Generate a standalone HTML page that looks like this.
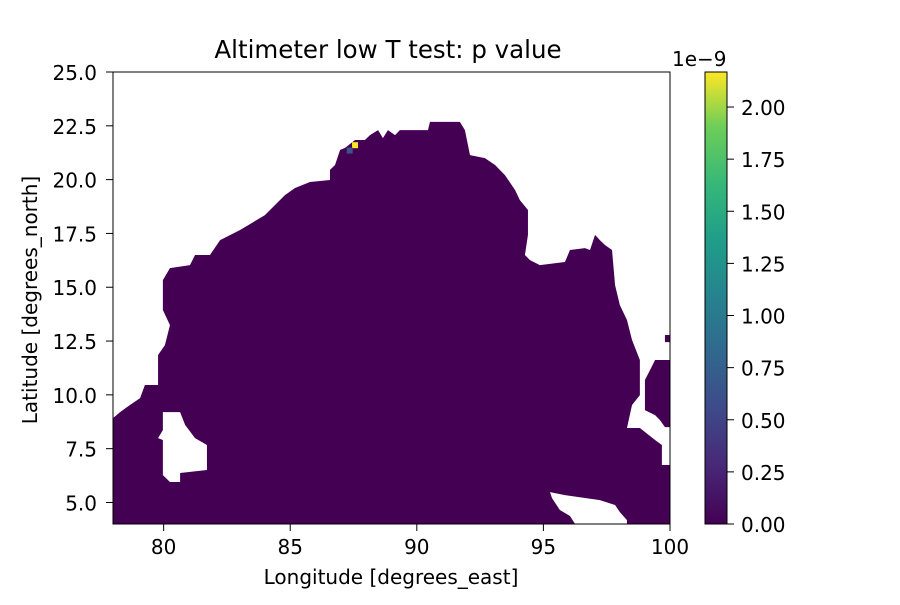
<!DOCTYPE html>
<html><head><meta charset="utf-8"><style>body{margin:0;background:#fff}svg{font-family:"DejaVu Sans","Liberation Sans",sans-serif}</style></head>
<body>
<svg id="c" width="900" height="600" xmlns="http://www.w3.org/2000/svg">
<defs><linearGradient id="vir" x1="0" y1="1" x2="0" y2="0">
<stop offset="0" stop-color="#440154"/><stop offset="0.13" stop-color="#482878"/><stop offset="0.25" stop-color="#3e4989"/><stop offset="0.38" stop-color="#31688e"/><stop offset="0.5" stop-color="#26828e"/><stop offset="0.63" stop-color="#1f9e89"/><stop offset="0.75" stop-color="#35b779"/><stop offset="0.88" stop-color="#6ece58"/><stop offset="1" stop-color="#fde725"/></linearGradient></defs>
<g id="plot"></g>
</svg>
<script>
const xTicks=[80,85,90,95,100];
const yTicks=[5.0,7.5,10.0,12.5,15.0,17.5,20.0,22.5,25.0];
const cTicks=[0,0.25,0.5,0.75,1.0,1.25,1.5,1.75,2.0];
const mainLon=[78,78,96.25,96.05,95.65,95.34,95.26,95.85,97.23,97.83,98.02,98.30,98.30,100,100,99.68,99.68,99.41,98.81,98.30,98.50,98.81,98.81,98.50,98.30,98.02,97.83,97.71,97.43,97.23,97.04,96.84,96.64,96.05,95.85,94.86,94.47,94.27,94.39,94.39,94.07,93.88,93.48,93.09,92.69,92.10,91.90,91.70,90.52,90.44,89.33,89.14,88.86,88.66,88.47,88.15,87.95,87.56,87.16,86.97,86.77,86.57,86.57,85.78,85.19,84.79,84.0,83.02,82.23,81.83,81.24,81.04,80.25,79.97,79.97,80.25,80.05,79.78,79.78,79.26,79.07,78.67,78.28];
const mainLat=[8.92,4,4,4.37,4.65,5.20,5.48,5.34,5.11,4.88,4.55,4.18,4,4,6.74,6.74,7.67,7.9,8.46,8.46,9.53,9.99,11.62,12.55,13.48,14.17,15.10,16.73,16.96,17.19,17.43,16.73,16.82,16.73,16.17,16.03,16.26,16.50,17.43,18.59,19.05,19.52,20.21,20.68,21.0,21.14,22.30,22.68,22.68,22.30,22.30,22.07,22.30,21.93,22.30,22.07,21.84,21.84,21.47,21.38,20.68,20.45,19.98,19.89,19.61,19.28,18.35,17.66,17.19,16.5,16.5,16.03,15.89,15.33,13.94,13.24,12.31,11.85,10.46,10.46,9.85,9.53,9.20];
const holeLon=[79.97,80.65,80.85,81.24,81.71,81.71,80.65,80.65,80.25,79.97,79.97,79.78,79.97];
const holeLat=[9.20,9.20,8.60,7.99,7.67,6.51,6.37,5.95,5.95,6.27,7.90,7.99,8.36];
const islLon=[99.60,100,100,99.80,99.60,99.41,99.01,99.01,99.21,99.41];
const islLat=[11.62,11.62,8.50,8.50,8.83,9.06,9.29,10.69,11.15,11.62];
const isl2Lon=[99.80,100,100,99.80];
const isl2Lat=[12.78,12.78,12.45,12.45];
const cells=[[87.56,21.6,2.17],[87.35,21.35,0.4]];
const X0=113,X1=670,Y0=524,Y1=72;
const sx=v=>X0+(v-78)/(100-78)*(X1-X0);
const sy=v=>Y0-(v-4)/(25-4)*(Y0-Y1);
const cy=v=>524-v/2.168*452;
const NS="http://www.w3.org/2000/svg";
const g=document.getElementById('plot');
function mk(t,a,txt){const e=document.createElementNS(NS,t);for(const k in a)e.setAttribute(k,a[k]);if(txt!==undefined)e.textContent=txt;g.appendChild(e);return e;}
function pts(lo,la){return lo.map((v,i)=>sx(v)+','+sy(la[i])).join(' ');}
let p=mk('polygon',{points:pts(mainLon,mainLat),fill:'#440154'});


p=mk('polygon',{points:pts(holeLon,holeLat),fill:'#fff'});


p=mk('polygon',{points:pts(islLon,islLat),fill:'#440154'});


p=mk('polygon',{points:pts(isl2Lon,isl2Lat),fill:'#440154'});


const cmap=v=>v>2?'#fde725':v>0.3?'#3b528b':'#440154';
cells.forEach(c=>{const r=mk('rect',{x:sx(c[0])-3,y:sy(c[1])-3,width:6,height:6,fill:cmap(c[2])});

});
p=mk('rect',{x:X0,y:Y1,width:X1-X0,height:Y0-Y1,fill:'none',stroke:'#000','stroke-width':1});


xTicks.forEach(v=>{mk('line',{x1:sx(v),x2:sx(v),y1:Y0,y2:Y0+7,stroke:'#000'});
const t=mk('text',{x:sx(v),y:Y0+30,'text-anchor':'middle','font-size':20},String(v));

});
yTicks.forEach(v=>{mk('line',{x1:X0-7,x2:X0,y1:sy(v),y2:sy(v),stroke:'#000'});
const t=mk('text',{x:X0-16,y:sy(v)+8,'text-anchor':'end','font-size':20},v.toFixed(1));

});
p=mk('rect',{x:705,y:72,width:22,height:452,fill:'url(#vir)',stroke:'#000'});


cTicks.forEach(v=>{mk('line',{x1:727,x2:734,y1:cy(v),y2:cy(v),stroke:'#000'});
const t=mk('text',{x:741,y:cy(v)+8,'font-size':20},v.toFixed(2));

});
p=mk('text',{x:672,y:66,'font-size':20},'1e\u22129');


p=mk('text',{x:388,y:58,'text-anchor':'middle','font-size':24.5},'Altimeter low T test: p value');


p=mk('text',{x:391,y:584,'text-anchor':'middle','font-size':20},'Longitude [degrees_east]');


p=mk('text',{x:37,y:300,'text-anchor':'middle','font-size':20,transform:'rotate(-90 37 300)'},'Latitude [degrees_north]');


</script>
</body></html>
